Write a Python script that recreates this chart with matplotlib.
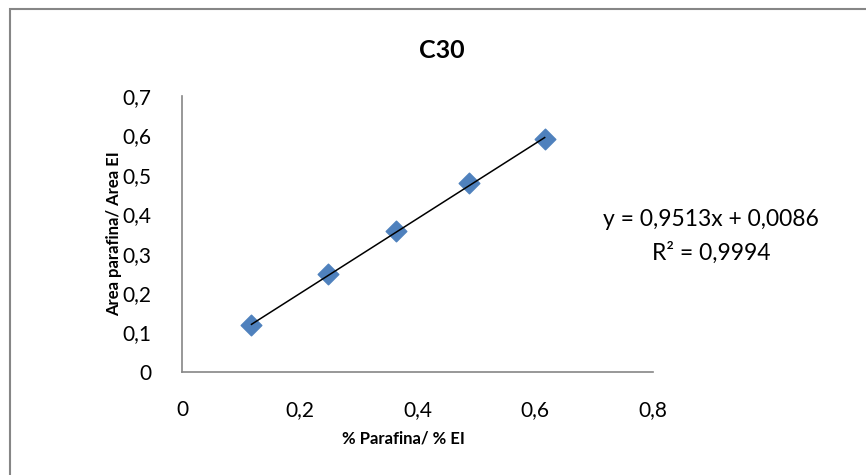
import matplotlib
matplotlib.use("Agg")
import matplotlib.pyplot as plt
import numpy as np
from matplotlib.ticker import FuncFormatter, MultipleLocator
from matplotlib.patches import Rectangle

plt.rcParams['font.family'] = ['Lato', 'DejaVu Sans']

# Calibration data
x_ratio = [0.118, 0.2485, 0.363, 0.4875, 0.616]
y_ratio = [0.119, 0.248, 0.358, 0.480, 0.590]

slope = 0.9513
intercept = 0.0086
r_squared = 0.9994

title = "C30"
x_label = "% Parafina/ % EI"
y_label = "Area parafina/ Area EI"

fig = plt.figure(figsize=(8.66, 4.75), dpi=100)
fig.patch.set_facecolor("white")

# Chart-area border (left and top edges visible)
fig.patches.append(Rectangle((10 / 866, -0.1), 1.2, 1.1 - 9 / 475,
                             transform=fig.transFigure, fill=False,
                             edgecolor="#868686", linewidth=1.5))

ax = fig.add_axes([182 / 866, 1 - 372 / 475, (653 - 182) / 866, (372 - 96) / 475])

ax.scatter(x_ratio, y_ratio, marker="D", s=10.5 ** 2, color="#4F81BD",
           edgecolors="#4F81BD", zorder=3)

xs = np.array([min(x_ratio), max(x_ratio)])
ax.plot(xs, slope * xs + intercept, color="black", linewidth=1.1, zorder=4)

ax.set_xlim(0, 0.8)
ax.set_ylim(0, 0.7)
ax.xaxis.set_major_locator(MultipleLocator(0.2))
ax.yaxis.set_major_locator(MultipleLocator(0.1))

def comma_fmt(v, pos):
    if abs(v) < 1e-9:
        return "0"
    return f"{v:.1f}".replace(".", ",")

ax.xaxis.set_major_formatter(FuncFormatter(comma_fmt))
ax.yaxis.set_major_formatter(FuncFormatter(comma_fmt))

ax.tick_params(axis="both", length=0, labelsize=15, colors="black")
ax.tick_params(axis="x", pad=20)
ax.tick_params(axis="y", pad=22)
for side in ("top", "right"):
    ax.spines[side].set_visible(False)
for side in ("left", "bottom"):
    ax.spines[side].set_color("#868686")
    ax.spines[side].set_linewidth(1.2)

fig.text(442 / 866, 1 - 50 / 475, title, ha="center", va="center",
         fontsize=18, fontweight="bold")
fig.text(403 / 866, 1 - 439 / 475, x_label, ha="center", va="center",
         fontsize=12, fontweight="bold")
fig.text(114 / 866, 1 - 234 / 475, y_label, ha="center", va="center",
         rotation=90, fontsize=12, fontweight="bold")

eq_x = 711 / 866
fig.text(eq_x, 1 - 220 / 475,
         f"y = {slope:.4f}x + {intercept:.4f}".replace(".", ","),
         ha="center", va="center", fontsize=16.5)
fig.text(eq_x, 1 - 253 / 475,
         f"R² = {r_squared:.4f}".replace(".", ","),
         ha="center", va="center", fontsize=16.5)

fig.savefig("out.png", dpi=100, facecolor="white")
